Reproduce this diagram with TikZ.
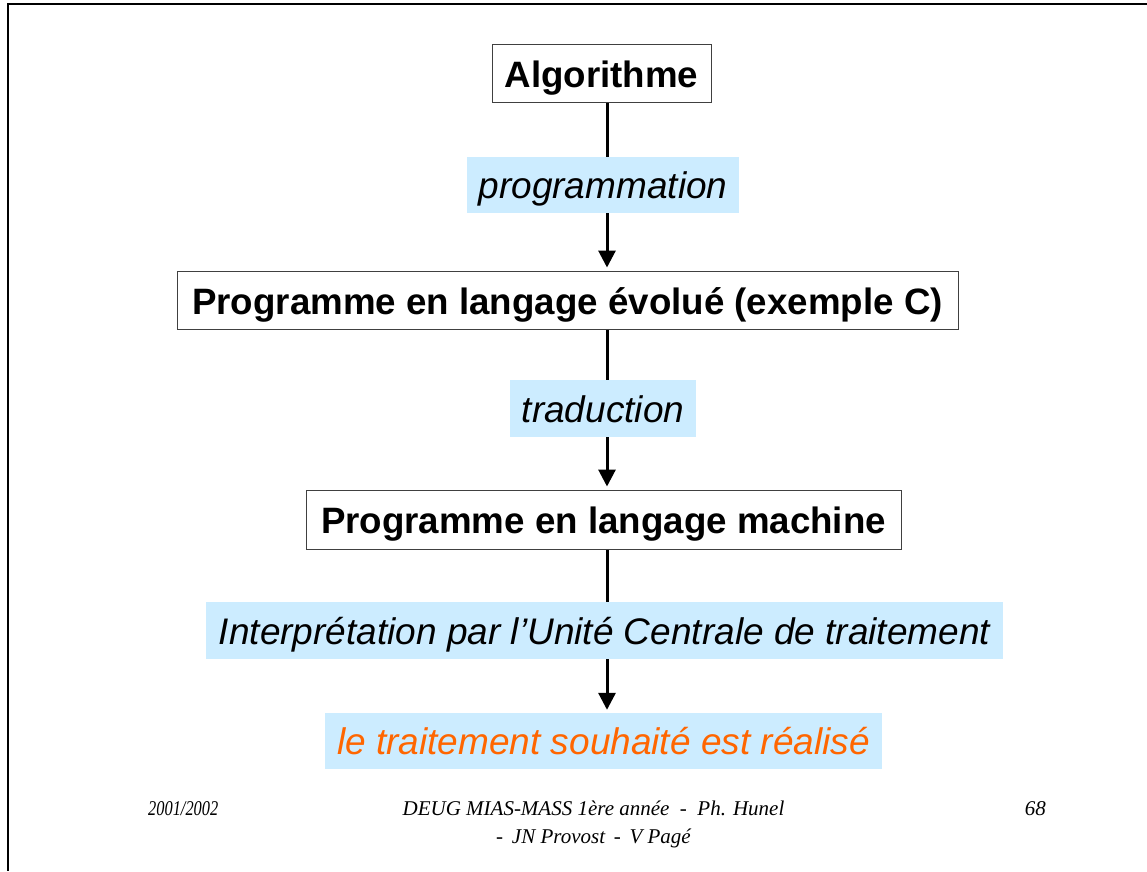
\documentclass[tikz,border=0pt]{standalone}
\usepackage{fontspec}
\setmainfont{Liberation Sans}
\newfontfamily\footfont{Liberation Serif}
\usetikzlibrary{arrows.meta}
\pgfdeclarelayer{bg}
\pgfsetlayers{bg,main}
\definecolor{lblue}{HTML}{CCECFF}
\definecolor{orng}{HTML}{FF6600}
\tikzset{
  stagebox/.style={draw=black!75, line width=1pt, fill=white, inner sep=0pt, text height=28pt, text depth=0pt, font=\fontsize{36.7}{44}\selectfont\bfseries},
  labelbox/.style={fill=lblue, inner sep=0pt, text height=27pt, text depth=0pt, font=\fontsize{37}{44}\selectfont\itshape},
  conn/.style={line width=3pt, -{Triangle[width=17pt,length=17pt]}, shorten >=3pt},
  foot/.style={font=\fontsize{21}{25}\selectfont\footfont\itshape, inner sep=0pt, anchor=base}
}
\begin{document}
\begin{tikzpicture}[x=1pt,y=-1pt]
\useasboundingbox (0,0) rectangle (1147,871);
\draw[line width=2.5pt] (1147,4) -- (8,4) -- (8,871);
\coordinate (col) at (607,0);
% stage boxes
\node[stagebox, minimum width=219pt, minimum height=58pt] (alg) at (601.5,73) {Algorithme};
\node[stagebox, minimum width=781pt, minimum height=58pt] (prog) at (567.5,300) {Programme en langage évolué (exemple C)};
\node[stagebox, minimum width=595pt, minimum height=59pt] (mach) at (603.5,519.5) {Programme en langage machine};
% labels
\node[labelbox, minimum width=272pt, minimum height=56pt] (l1) at (603,185) {programmation};
\node[labelbox, minimum width=186pt, minimum height=57pt] (l2) at (603,408.5) {traduction};
\node[labelbox, minimum width=797pt, minimum height=57pt] (l3) at (604.5,630.5) {Interprétation par l’Unité Centrale de traitement};
\node[labelbox, minimum width=557pt, minimum height=56pt, text=orng] (res) at (603.5,741) {le traitement souhaité est réalisé};
% connectors
\begin{pgfonlayer}{bg}
\draw[conn] (alg.south -| col) -- (prog.north -| col);
\draw[conn] (prog.south -| col) -- (mach.north -| col);
\draw[conn] (mach.south -| col) -- (res.north -| col);
\end{pgfonlayer}
% footer
\node[foot, anchor=base west] (f1) at (148,815) {\scalebox{0.78}[1]{2001/2002}};
\node[foot] (f2) at (593.5,815) {DEUG MIAS-MASS 1ère année \ - \ Ph. Hunel};
\node[foot] (f3) at (593.5,843) {- \,JN Provost \,- \,V Pagé};
\node[foot, anchor=base east] (f4) at (1046,815) {68};
\end{tikzpicture}
\end{document}
